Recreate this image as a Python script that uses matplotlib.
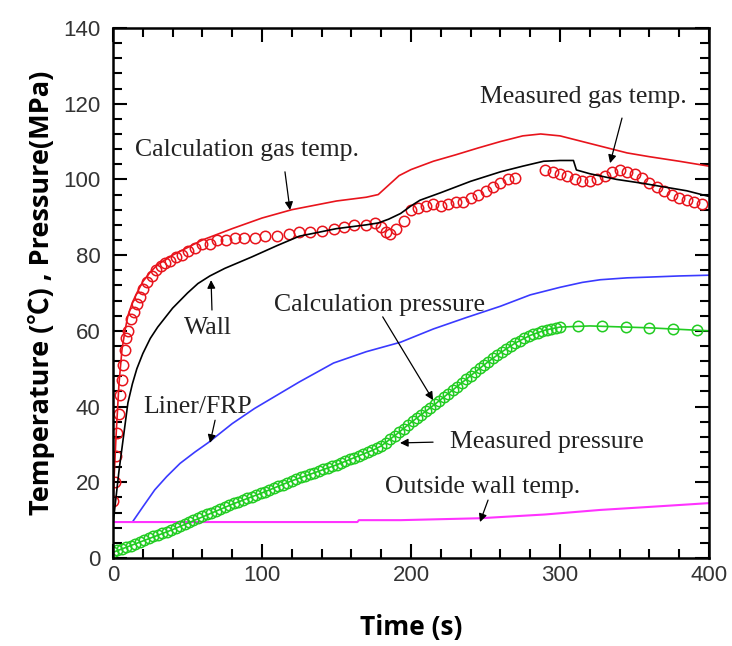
import matplotlib
matplotlib.use("Agg")
import matplotlib.pyplot as plt
from matplotlib.ticker import MultipleLocator

# calculated gas temperature (red line)
calc_gas_t = [0, 2, 4, 6, 8, 10, 13, 16, 20, 25, 30, 40, 50, 60, 80, 100, 120, 150, 170, 178, 185, 192,
              200, 215, 230, 245, 260, 275, 287, 300, 315, 330, 345, 360, 380, 400]
calc_gas_y = [15, 32, 46, 55, 60, 64, 67.5, 70, 73, 75.5, 77.5, 80, 82, 84, 87, 89.8, 92, 94.3, 95.3, 96, 98.5, 101,
              102.6, 104.8, 106.5, 108.3, 110, 111.5, 112, 111.5, 110, 108.5, 107, 106, 104.8, 103.5]

# measured gas temperature (red circles)
meas_gas_t = [0, 1, 2, 3, 4, 5, 6, 7, 8, 9, 10, 12, 14, 16, 18, 20, 23, 26, 29, 32, 35, 38, 42, 46, 50,
              55, 60, 65, 70, 76, 82, 88, 95, 102, 110, 118, 125, 132, 140, 148, 155, 162, 170, 176, 180,
              183, 186, 190, 195, 200, 205, 210, 215, 220, 225, 230, 235, 240, 245, 250, 255, 260, 265, 270,
              290, 295, 300, 305, 310, 315, 320, 325, 330, 335, 340, 345, 350, 355, 360, 365, 370, 375, 380,
              385, 390, 395]
meas_gas_y = [15, 20, 27, 33, 38, 43, 47, 51, 55, 58, 60, 63, 65, 67, 69, 71, 73, 74.5, 76, 77, 78, 78.5, 79.5, 80, 81,
              82, 83, 83, 84, 84, 84.5, 84.5, 84.5, 85, 85, 85.5, 86, 86, 86.5, 87, 87.5, 88, 88, 88.5, 87.5,
              86, 85.5, 87, 89, 92, 92.5, 93, 93.5, 93, 93.5, 94, 94, 95, 96, 97, 98, 99, 100, 100.5,
              102.5, 102, 101.5, 101, 100, 99.5, 99.5, 100, 101, 102, 102.5, 102, 101.5, 100.5, 99, 98, 97, 96, 95,
              94.5, 94, 93.5]

# wall temperature (black line)
wall_t = [0, 2, 4, 6, 8, 10, 13, 16, 20, 25, 30, 40, 50, 57, 65, 75, 93, 110, 125, 150, 170, 178, 185, 193,
          200, 206, 220, 240, 260, 275, 289, 300, 309, 311, 320, 338, 355, 370, 385, 400]
wall_y = [9, 16, 23, 29, 35, 41, 46, 50, 54, 58, 61, 66, 70, 72.5, 74.5, 76.5, 79.5, 82.5, 85, 87, 88, 88.5, 89.5, 91,
          93, 94.5, 96.5, 99.5, 102, 103.5, 104.8, 105, 105, 102.5, 101.5, 100, 99, 98, 97, 95.5]

# liner/FRP temperature (blue line)
liner_t = [0, 13, 20, 28, 36, 45, 55, 64, 80, 95, 110, 125, 148, 170, 193, 215, 237, 260, 280, 300, 315,
           327, 345, 360, 380, 400]
liner_y = [9.5, 9.5, 13.5, 18, 21.5, 25, 28, 30.5, 35.5, 39.5, 43, 46.5, 51.5, 54.5, 57, 60.5, 63.5, 66.5, 69.5,
           71.5, 72.8, 73.5, 74, 74.2, 74.5, 74.7]

# outside wall temperature (magenta line)
outside_t = [0, 164, 165, 193, 246, 290, 327, 360, 400]
outside_y = [9.5, 9.5, 10, 10, 10.5, 11.5, 12.7, 13.5, 14.5]

# calculated pressure (green line)
calc_p_t = [0, 40, 80, 100, 120, 150, 175, 180, 190, 200, 215, 230, 250, 260, 270, 280, 290, 300, 320, 360, 400]
calc_p_y = [1.5, 7.5, 14.2, 17.2, 20.4, 24.6, 28.6, 29.6, 32.6, 35.8, 40.3, 45, 51.3, 54.2, 56.8, 58.8, 60.2,
            61, 61.3, 60.8, 60]

# measured pressure (green circles)
meas_p_t = [0, 3, 6, 9, 12, 15, 18, 21, 24, 27, 30, 33, 36, 39, 42, 45, 48, 51, 54, 57, 60, 63, 66, 69, 72,
            75, 78, 81, 84, 87, 90, 93, 96, 99, 102, 105, 108, 111, 114, 117, 120, 123, 126, 129, 132, 135,
            138, 141, 144, 147, 150, 153, 156, 159, 162, 165, 168, 171, 174, 177, 180, 183, 186, 189, 192,
            195, 198, 201, 204, 207, 210, 213, 216, 219, 222, 225, 228, 231, 234, 237, 240, 243, 246, 249,
            252, 255, 258, 261, 264, 267, 270, 273, 276, 279, 282, 285, 288, 291, 294, 297, 300,
            312, 328, 344, 360, 376, 392]
meas_p_y = [1.5, 2.0, 2.4, 2.9, 3.3, 3.8, 4.3, 4.7, 5.2, 5.7, 6.1, 6.6, 7.0, 7.5, 8.0, 8.5, 9.0, 9.5, 10.0, 10.5,
            11.0, 11.5, 12.0, 12.5, 13.0, 13.5, 14.0, 14.4, 14.9, 15.3, 15.8, 16.2, 16.7, 17.1, 17.5, 18.0, 18.5,
            19.0, 19.4, 19.9, 20.4, 20.8, 21.3, 21.7, 22.1, 22.5, 22.9, 23.4, 23.8, 24.2, 24.6, 25.1, 25.6, 26.1,
            26.5, 27.0, 27.5, 28.0, 28.5, 29.0, 29.6, 30.5, 31.4, 32.3, 33.2, 34.2, 35.2, 36.1, 37.0, 37.9, 38.8,
            39.7, 40.6, 41.5, 42.5, 43.4, 44.4, 45.3, 46.3, 47.2, 48.2, 49.1, 50.1, 51.0, 51.9, 52.8, 53.6, 54.5,
            55.3, 56.1, 56.8, 57.4, 58.0, 58.6, 59.1, 59.5, 59.9, 60.3, 60.6, 60.8, 61.0,
            61.3, 61.3, 61.0, 60.8, 60.6, 60.3]

RED = '#e8141c'
GREEN = '#22cc22'
BLUE = '#3a3aff'
MAGENTA = '#ff33ff'

fig = plt.figure(figsize=(7.32, 6.46), dpi=100)
ax = fig.add_axes([0.1544, 0.1362, 0.8142, 0.8205])

ax.plot(calc_gas_t, calc_gas_y, color=RED, lw=1.2)
ax.plot(meas_gas_t, meas_gas_y, ls='none', marker='o', ms=7.5, mfc='none', mec=RED, mew=1.1)
ax.plot(wall_t, wall_y, color='black', lw=1.2)
ax.plot(liner_t, liner_y, color=BLUE, lw=1.2)
ax.plot(outside_t, outside_y, color=MAGENTA, lw=1.5)
ax.plot(calc_p_t, calc_p_y, color=GREEN, lw=1.2)
ax.plot(meas_p_t, meas_p_y, ls='none', marker='o', ms=7.5, mfc='none', mec=GREEN, mew=1.1)

ax.set_xlim(0, 400)
ax.set_ylim(0, 140)
ax.xaxis.set_major_locator(MultipleLocator(100))
ax.xaxis.set_minor_locator(MultipleLocator(20))
ax.yaxis.set_major_locator(MultipleLocator(20))
ax.yaxis.set_minor_locator(MultipleLocator(4))
ax.tick_params(which='both', direction='in', top=True, right=True, width=1.5,
               labelsize=16, labelcolor='#333333', labelfontfamily='Liberation Sans')
ax.tick_params(which='major', length=10)
ax.tick_params(which='minor', length=6.5)
ax.tick_params(axis='y', pad=9)
ax.tick_params(axis='x', pad=5)
for s in ax.spines.values():
    s.set_linewidth(1.8)

ax.set_xlabel('Time (s)', fontsize=19, fontweight='bold', family=['Open Sans', 'DejaVu Sans'], labelpad=20)
ax.set_ylabel('Temperature (℃) , Pressure(MPa)', fontsize=19.5, fontweight='bold',
              family=['Open Sans', 'Noto Sans CJK SC', 'DejaVu Sans'], labelpad=6)

arrow = dict(arrowstyle='-|>', color='black', lw=0.9, mutation_scale=12, shrinkA=0, shrinkB=0)
tfont = dict(fontsize=18.5, family='Liberation Serif', color='#222222', ha='center', va='center')

ax.text(90, 107.8, 'Calculation gas temp.', **tfont)
ax.annotate('', xy=(118.8, 91.9), xytext=(115.4, 102), arrowprops=arrow)
ax.text(316, 121.8, 'Measured gas temp.', **tfont)
ax.annotate('', xy=(333.6, 104.3), xytext=(341.6, 116.2), arrowprops=arrow)
ax.text(64, 60.7, 'Wall', **tfont)
ax.annotate('', xy=(65.8, 73.4), xytext=(66.4, 65.5), arrowprops=arrow)
ax.text(179, 66.8, 'Calculation pressure', **tfont)
ax.annotate('', xy=(214.8, 41.7), xytext=(181, 63.7), arrowprops=arrow)
ax.text(57, 39.9, 'Liner/FRP', **tfont)
ax.annotate('', xy=(65.1, 30.4), xytext=(68.5, 36.4), arrowprops=arrow)
ax.text(291, 30.6, 'Measured pressure', **tfont)
ax.annotate('', xy=(192.6, 30.4), xytext=(214.8, 30.6), arrowprops=arrow)
ax.text(248, 18.8, 'Outside wall temp.', **tfont)
ax.annotate('', xy=(246.3, 9.5), xytext=(251.7, 15.3), arrowprops=arrow)

fig.savefig('out.png', dpi=100)
